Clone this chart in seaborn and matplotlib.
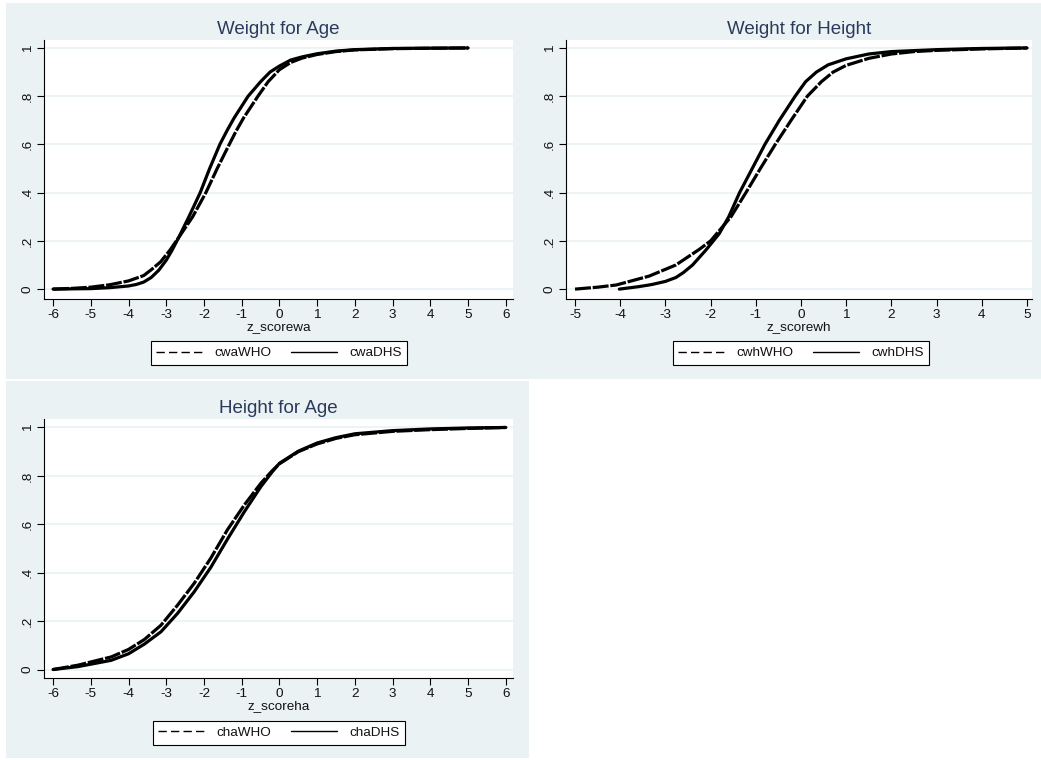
import matplotlib
matplotlib.use("Agg")
import matplotlib.pyplot as plt
from matplotlib.lines import Line2D
from matplotlib.patches import Rectangle
import seaborn as sns
import pandas as pd

# ---------------- data ----------------
titles = ["Weight for Age", "Weight for Height", "Height for Age"]
xlabels = ["z_scorewa", "z_scorewh", "z_scoreha"]
labels_who = ["cwaWHO", "cwhWHO", "chaWHO"]
labels_dhs = ["cwaDHS", "cwhDHS", "chaDHS"]

wa_who_x = [-6, -5.5, -5, -4.5, -4, -3.6, -3.4, -3.15, -2.9, -2.67, -2.3, -1.95, -1.65, -1.33, -1.15, -0.95, -0.57, -0.3, 0, 0.3, 0.6, 1, 1.5, 2, 3, 4, 5]
wa_who_y = [0.0, 0.003, 0.008, 0.018, 0.034, 0.056, 0.08, 0.113, 0.162, 0.214, 0.3, 0.4, 0.5, 0.6, 0.655, 0.71, 0.8, 0.86, 0.91, 0.94, 0.958, 0.973, 0.985, 0.992, 0.997, 0.999, 1.0]
wa_dhs_x = [-6, -5.5, -5, -4.5, -4, -3.8, -3.6, -3.4, -3.2, -3.0, -2.85, -2.67, -2.4, -2.1, -1.85, -1.58, -1.38, -1.2, -0.83, -0.5, -0.25, 0, 0.3, 0.6, 1, 1.5, 2, 3, 4, 5]
wa_dhs_y = [0.0, 0.001, 0.002, 0.006, 0.013, 0.019, 0.029, 0.048, 0.078, 0.12, 0.16, 0.214, 0.3, 0.4, 0.5, 0.6, 0.66, 0.71, 0.8, 0.86, 0.9, 0.925, 0.95, 0.963, 0.976, 0.987, 0.993, 0.998, 0.999, 1.0]

wh_who_x = [-5, -4.5, -4.09, -3.36, -2.77, -2.25, -2.0, -1.55, -1.22, -0.9, -0.57, -0.22, 0.14, 0.45, 0.71, 1, 1.5, 2, 2.5, 3, 4, 5]
wh_who_y = [0.0, 0.008, 0.017, 0.054, 0.1, 0.165, 0.2, 0.3, 0.4, 0.5, 0.6, 0.7, 0.8, 0.86, 0.9, 0.928, 0.957, 0.975, 0.985, 0.99, 0.996, 1.0]
wh_dhs_x = [-4.02, -3.6, -3.3, -3.0, -2.77, -2.6, -2.4, -2.1, -1.81, -1.6, -1.36, -1.08, -0.8, -0.48, -0.13, 0.1, 0.34, 0.6, 1, 1.5, 2, 3, 4, 5]
wh_dhs_y = [0.0, 0.01, 0.019, 0.032, 0.048, 0.069, 0.1, 0.163, 0.23, 0.3, 0.4, 0.5, 0.6, 0.7, 0.8, 0.86, 0.9, 0.93, 0.955, 0.975, 0.985, 0.993, 0.998, 1.0]

ha_who_x = [-6, -5.34, -4.46, -4.0, -3.58, -3.14, -2.7, -2.26, -1.82, -1.38, -0.93, -0.49, -0.2, 0, 0.5, 1, 1.5, 2, 3, 4, 5, 6]
ha_who_y = [0.0, 0.018, 0.052, 0.083, 0.124, 0.183, 0.266, 0.356, 0.46, 0.577, 0.68, 0.77, 0.82, 0.85, 0.9, 0.932, 0.955, 0.97, 0.984, 0.991, 0.996, 1.0]
ha_dhs_x = [-6, -5.34, -4.46, -4.0, -3.58, -3.14, -2.7, -2.26, -1.82, -1.38, -0.93, -0.49, -0.2, 0, 0.5, 1, 1.5, 2, 3, 4, 5, 6]
ha_dhs_y = [0.0, 0.012, 0.038, 0.065, 0.105, 0.156, 0.232, 0.321, 0.422, 0.538, 0.652, 0.756, 0.815, 0.852, 0.902, 0.936, 0.958, 0.974, 0.987, 0.994, 0.998, 1.0]

yticks = [0, 0.2, 0.4, 0.6, 0.8, 1]
ytick_labels = ["0", ".2", ".4", ".6", ".8", "1"]
xticks_list = [list(range(-6, 7)), list(range(-5, 6)), list(range(-6, 7))]

series = [
    (wa_who_x, wa_who_y, wa_dhs_x, wa_dhs_y),
    (wh_who_x, wh_who_y, wh_dhs_x, wh_dhs_y),
    (ha_who_x, ha_who_y, ha_dhs_x, ha_dhs_y),
]

# ---------------- style ----------------
sns.set_theme(style="white")
plt.rcParams["font.family"] = ["Liberation Sans", "DejaVu Sans"]

W, H = 1041, 760
BG = "#EAF2F3"
TITLE_C = "#2B3A5C"
TXT = "#111111"
FS = 9.7

fig = plt.figure(figsize=(W / 100, H / 100), dpi=100)
fig.patch.set_facecolor("white")

def fx(px):
    return px / W

def fy(py):
    return 1 - py / H

# graph region backgrounds
fig.patches.append(Rectangle((fx(6), fy(379)), fx(1041) - fx(6), fy(3) - fy(379),
                             transform=fig.transFigure, facecolor=BG, edgecolor="none", zorder=-10))
fig.patches.append(Rectangle((fx(6), fy(758)), fx(529) - fx(6), fy(381) - fy(758),
                             transform=fig.transFigure, facecolor=BG, edgecolor="none", zorder=-10))

# axes boxes in pixels: (left, top, right, bottom)
boxes = [(44, 40, 513, 299), (566, 40, 1032, 299), (44, 419, 513, 678)]
xlims = [(-6.24, 6.19), (-5.2, 5.11), (-6.24, 6.19)]
ylims = [(-0.041, 1.033), (-0.041, 1.033), (-0.035, 1.035)]
legend_centers = [(279, 353), (801, 353), (279, 733)]

for i in range(3):
    l, t, r, b = boxes[i]
    ax = fig.add_axes([fx(l), fy(b), fx(r) - fx(l), fy(t) - fy(b)])
    ax.set_facecolor("white")
    wx, wy, dx, dy = series[i]
    df_who = pd.DataFrame({"z": wx, "cdf": wy})
    df_dhs = pd.DataFrame({"z": dx, "cdf": dy})
    sns.lineplot(data=df_who, x="z", y="cdf", ax=ax, color="black", linewidth=2.3,
                 linestyle=(0, (5, 0.55)), estimator=None, sort=True,
                 solid_joinstyle="round", dash_joinstyle="round")
    sns.lineplot(data=df_dhs, x="z", y="cdf", ax=ax, color="black", linewidth=2.3,
                 linestyle="-", estimator=None, sort=True,
                 solid_joinstyle="round", dash_joinstyle="round")

    ax.set_xlim(*xlims[i])
    ax.set_ylim(*ylims[i])
    ax.set_xticks(xticks_list[i])
    ax.set_xticklabels([str(v) for v in xticks_list[i]], fontsize=FS)
    ax.set_yticks(yticks)
    ax.set_yticklabels(ytick_labels, fontsize=FS, rotation=90, va="center")
    ax.yaxis.grid(True, color=BG, linewidth=1.2)
    ax.xaxis.grid(False)
    ax.set_axisbelow(True)
    for s in ["top", "right"]:
        ax.spines[s].set_visible(False)
    for s in ["left", "bottom"]:
        ax.spines[s].set_color("black")
        ax.spines[s].set_linewidth(0.8)
    ax.tick_params(axis="both", direction="out", length=5, width=0.8, color="black",
                   labelcolor=TXT, pad=2.5, left=True, bottom=True)
    ax.set_xlabel(xlabels[i], fontsize=FS, labelpad=0.0, color=TXT)
    ax.set_ylabel("")
    ax.set_title(titles[i], fontsize=13.5, color=TITLE_C, pad=4)

    handles = [Line2D([], [], color="black", lw=1.0, linestyle=(0, (6, 3))),
               Line2D([], [], color="black", lw=1.0, linestyle="-")]
    cx, cy = legend_centers[i]
    leg = ax.legend(handles, [labels_who[i], labels_dhs[i]], loc="center",
                    bbox_to_anchor=(fx(cx), fy(cy)), bbox_transform=fig.transFigure,
                    ncol=2, frameon=True, fancybox=False, fontsize=FS,
                    handlelength=3.4, handletextpad=0.9, columnspacing=1.5,
                    borderpad=0.4, borderaxespad=0)
    for txt in leg.get_texts():
        txt.set_color(TXT)
    leg.get_frame().set_edgecolor("black")
    leg.get_frame().set_linewidth(0.8)
    leg.get_frame().set_facecolor("white")
    leg.get_frame().set_alpha(1)

fig.savefig("out.png", dpi=100, facecolor=fig.get_facecolor())
